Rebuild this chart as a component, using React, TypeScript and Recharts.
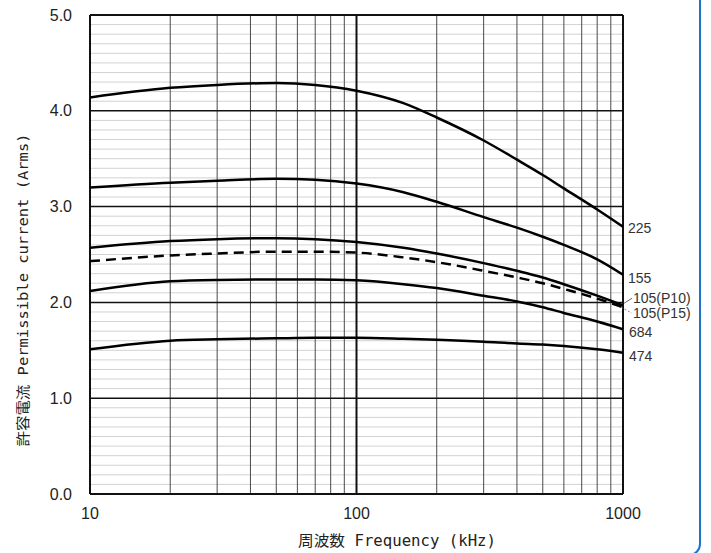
import React from 'react';
import { LineChart, Line, XAxis, YAxis, ReferenceLine } from 'recharts';

// Frequency (kHz)
const frequencies = [10, 20, 30, 50, 70, 100, 150, 200, 300, 400, 500, 600, 800, 1000];
// Permissible current (Arms)
const s225 = [4.14, 4.24, 4.27, 4.29, 4.27, 4.21, 4.08, 3.93, 3.69, 3.49, 3.33, 3.19, 2.97, 2.79];
const s155 = [3.2, 3.25, 3.27, 3.29, 3.28, 3.24, 3.15, 3.05, 2.89, 2.78, 2.685, 2.6, 2.45, 2.29];
const s105p10 = [2.57, 2.64, 2.66, 2.67, 2.66, 2.63, 2.57, 2.51, 2.41, 2.33, 2.26, 2.19, 2.07, 1.97];
const s105p15 = [2.43, 2.49, 2.51, 2.53, 2.53, 2.52, 2.47, 2.42, 2.33, 2.26, 2.2, 2.14, 2.04, 1.95];
const s684 = [2.12, 2.22, 2.235, 2.24, 2.24, 2.23, 2.19, 2.15, 2.07, 2.01, 1.95, 1.89, 1.8, 1.72];
const s474 = [1.51, 1.6, 1.615, 1.625, 1.63, 1.63, 1.62, 1.61, 1.59, 1.57, 1.56, 1.545, 1.51, 1.475];

const seriesNames = ['225', '155', '105(P10)', '105(P15)', '684', '474'];
const xTicks = [10, 100, 1000];
const yTicks = [0, 1, 2, 3, 4, 5];
const xGridMinor = [20, 30, 40, 50, 60, 70, 80, 90, 200, 300, 400, 500, 600, 700, 800, 900];
const yGridMajor = [1, 2, 3, 4];
const yGridMinor = Array.from({ length: 50 }, (_, i) => Math.round(i * 10) / 100)
  .filter((v) => v > 0 && Math.round(v * 10) % 10 !== 0);

const xTitle = '周波数 Frequency (kHz)';
const yTitle = '許容電流 Permissible current (Arms)';

const data = frequencies.map((f, i) => ({
  f,
  s225: s225[i],
  s155: s155[i],
  s105p10: s105p10[i],
  s105p15: s105p15[i],
  s684: s684[i],
  s474: s474[i],
}));

const seriesCfg = [
  { key: 's225', name: seriesNames[0], dashed: false, dx: 5, dy: 1, leader: null },
  { key: 's155', name: seriesNames[1], dashed: false, dx: 5, dy: 3, leader: null },
  { key: 's105p10', name: seriesNames[2], dashed: false, dx: 10, dy: -7, leader: 'solid' },
  { key: 's105p15', name: seriesNames[3], dashed: true, dx: 10, dy: 6, leader: 'dashed' },
  { key: 's684', name: seriesNames[4], dashed: false, dx: 6, dy: 3, leader: null },
  { key: 's474', name: seriesNames[5], dashed: false, dx: 6, dy: 3, leader: null },
];

const FONT = "'Liberation Sans', Arial, sans-serif";
const TITLE_FONT = "'DejaVu Sans Mono', 'Noto Sans CJK JP', monospace";

const makeLabel = (cfg: any) => (props: any) => {
  const { x, y, index } = props;
  if (index !== frequencies.length - 1) return null;
  const tx = x + cfg.dx;
  const ty = y + cfg.dy;
  return (
    <g>
      {cfg.leader === 'solid' && (
        <line x1={x + 1} y1={y - 2} x2={tx - 1} y2={ty} stroke="#666" strokeWidth={1} />
      )}
      {cfg.leader === 'dashed' && (
        <line x1={x - 2} y1={y} x2={tx - 1} y2={ty} stroke="#888" strokeWidth={1} strokeDasharray="2 2" />
      )}
      <text x={tx} y={ty} dominantBaseline="central" fontFamily={FONT} fontSize={14} fill="#333">
        {cfg.name}
      </text>
    </g>
  );
};

export default function App() {
  return (
    <div
      style={{
        position: 'fixed',
        left: 0,
        top: 0,
        width: 711,
        height: 553,
        overflow: 'hidden',
        background: '#fff',
      }}
    >
      <LineChart
        width={711}
        height={553}
        data={data}
        margin={{ top: 15, right: 88, bottom: 0, left: 0 }}
      >
        <XAxis
          dataKey="f"
          type="number"
          scale="log"
          domain={[10, 1000]}
          ticks={xTicks}
          allowDataOverflow
          height={59}
          axisLine={false}
          tickLine={false}
          tickSize={6}
          tickMargin={8}
          tick={{ fontFamily: FONT, fontSize: 16, fill: '#222' }}
          label={{
            content: () => (
              <text
                x={397}
                y={541}
                textAnchor="middle"
                dominantBaseline="central"
                fontFamily={TITLE_FONT}
                fontSize={15}
                fill="#222"
                textLength={198}
                lengthAdjust="spacingAndGlyphs"
              >
                {xTitle}
              </text>
            ),
          }}
        />
        <YAxis
          type="number"
          domain={[0, 5]}
          ticks={yTicks}
          width={90}
          axisLine={false}
          tickLine={false}
          tickSize={8}
          tickMargin={10}
          tickFormatter={(v: number) => v.toFixed(1)}
          tick={{ fontFamily: FONT, fontSize: 16, fill: '#222' }}
          label={{
            content: () => (
              <text
                x={23}
                y={290}
                transform="rotate(-90 23 290)"
                textAnchor="middle"
                dominantBaseline="central"
                fontFamily={TITLE_FONT}
                fontSize={14}
                fill="#222"
                textLength={313}
                lengthAdjust="spacingAndGlyphs"
              >
                {yTitle}
              </text>
            ),
          }}
        />
        {yGridMinor.map((v) => (
          <ReferenceLine key={'ym' + v} y={v} stroke="#d2d2d2" strokeWidth={1} />
        ))}
        {xGridMinor.map((v) => (
          <ReferenceLine key={'xm' + v} x={v} stroke="#4a4a4a" strokeWidth={1} />
        ))}
        <ReferenceLine x={100} stroke="#111" strokeWidth={2} />
        {yGridMajor.map((v) => (
          <ReferenceLine key={'yM' + v} y={v} stroke="#111" strokeWidth={1.5} />
        ))}
        <ReferenceLine x={10} stroke="#111" strokeWidth={2} />
        <ReferenceLine x={1000} stroke="#111" strokeWidth={2} />
        <ReferenceLine y={0} stroke="#111" strokeWidth={2} />
        <ReferenceLine y={5} stroke="#111" strokeWidth={2} />
        {seriesCfg.map((cfg) => (
          <Line
            key={cfg.key}
            dataKey={cfg.key}
            type="monotone"
            stroke="#000"
            strokeWidth={2.5}
            strokeDasharray={cfg.dashed ? '10 6' : undefined}
            dot={false}
            activeDot={false}
            isAnimationActive={false}
            label={makeLabel(cfg)}
          />
        ))}
      </LineChart>
      <div
        style={{
          position: 'absolute',
          left: -20,
          top: -20,
          width: 721,
          height: 576,
          boxSizing: 'border-box',
          border: '2.5px solid #1e73c6',
          borderRadius: 12,
        }}
      />
    </div>
  );
}
